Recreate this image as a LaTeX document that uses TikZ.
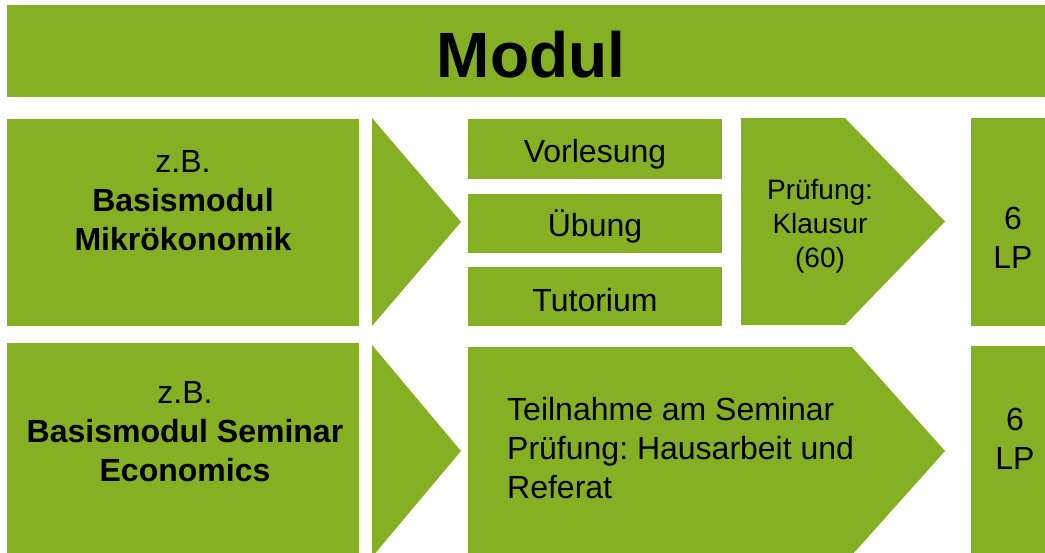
\documentclass[tikz,border=0pt]{standalone}
\usepackage{fontspec}
\setmainfont{Liberation Sans}
\frenchspacing
\definecolor{modgreen}{RGB}{133,176,36}
\tikzset{
  txt/.style={inner sep=0pt, align=center, font=\fontsize{32}{39}\selectfont},
  smalltxt/.style={inner sep=0pt, align=center, font=\fontsize{28}{34}\selectfont},
}
\begin{document}
\begin{tikzpicture}[x=1pt,y=-1pt]
\useasboundingbox (0,0) rectangle (1045,552);
\begin{scope}
\clip (0,0) rectangle (1045,552);
% banner
\fill[modgreen] (7,5) rectangle (1045,97);
\node[inner sep=0pt, font=\fontsize{64}{70}\selectfont\bfseries] (modul) at (531,55) {Modul};
% row 1
\fill[modgreen] (7,119) rectangle (359,326);
\node[txt] (m1) at (183,201) {z.B.\\\textbf{Basismodul}\\\textbf{Mikrökonomik}};
\fill[modgreen] (372,118) -- (461,222) -- (372,326) -- cycle;
\fill[modgreen] (468,119) rectangle (722,179);
\node[txt] (vl) at (595,154) {Vorlesung};
\fill[modgreen] (468,194) rectangle (722,253);
\node[txt] (ub) at (595,226) {Übung};
\fill[modgreen] (468,267) rectangle (722,326);
\node[txt] (tut) at (595,300) {Tutorium};
\fill[modgreen] (741,118) -- (845,118) -- (945,221.5) -- (845,325) -- (741,325) -- cycle;
\node[smalltxt] (pr1) at (820,226) {Prüfung:\\Klausur\\(60)};
\fill[modgreen] (971,118) rectangle (1045,326);
\node[txt] (lp1) at (1013,238) {6\\LP};
% row 2
\fill[modgreen] (7,343) rectangle (359,560);
\node[txt] (m2) at (185,432) {z.B.\\\textbf{Basismodul Seminar}\\\textbf{Economics}};
\fill[modgreen] (372,345) -- (461,451) -- (372,557) -- cycle;
\fill[modgreen] (468,347) -- (852,347) -- (945,451) -- (852,555) -- (468,555) -- cycle;
\node[txt, align=left, anchor=west] (sem) at (507,448) {Teilnahme am Seminar\\Prüfung: Hausarbeit und\\Referat};
\fill[modgreen] (971,346) rectangle (1045,560);
\node[txt] (lp2) at (1015,439) {6\\LP};
\end{scope}
\end{tikzpicture}
\end{document}
